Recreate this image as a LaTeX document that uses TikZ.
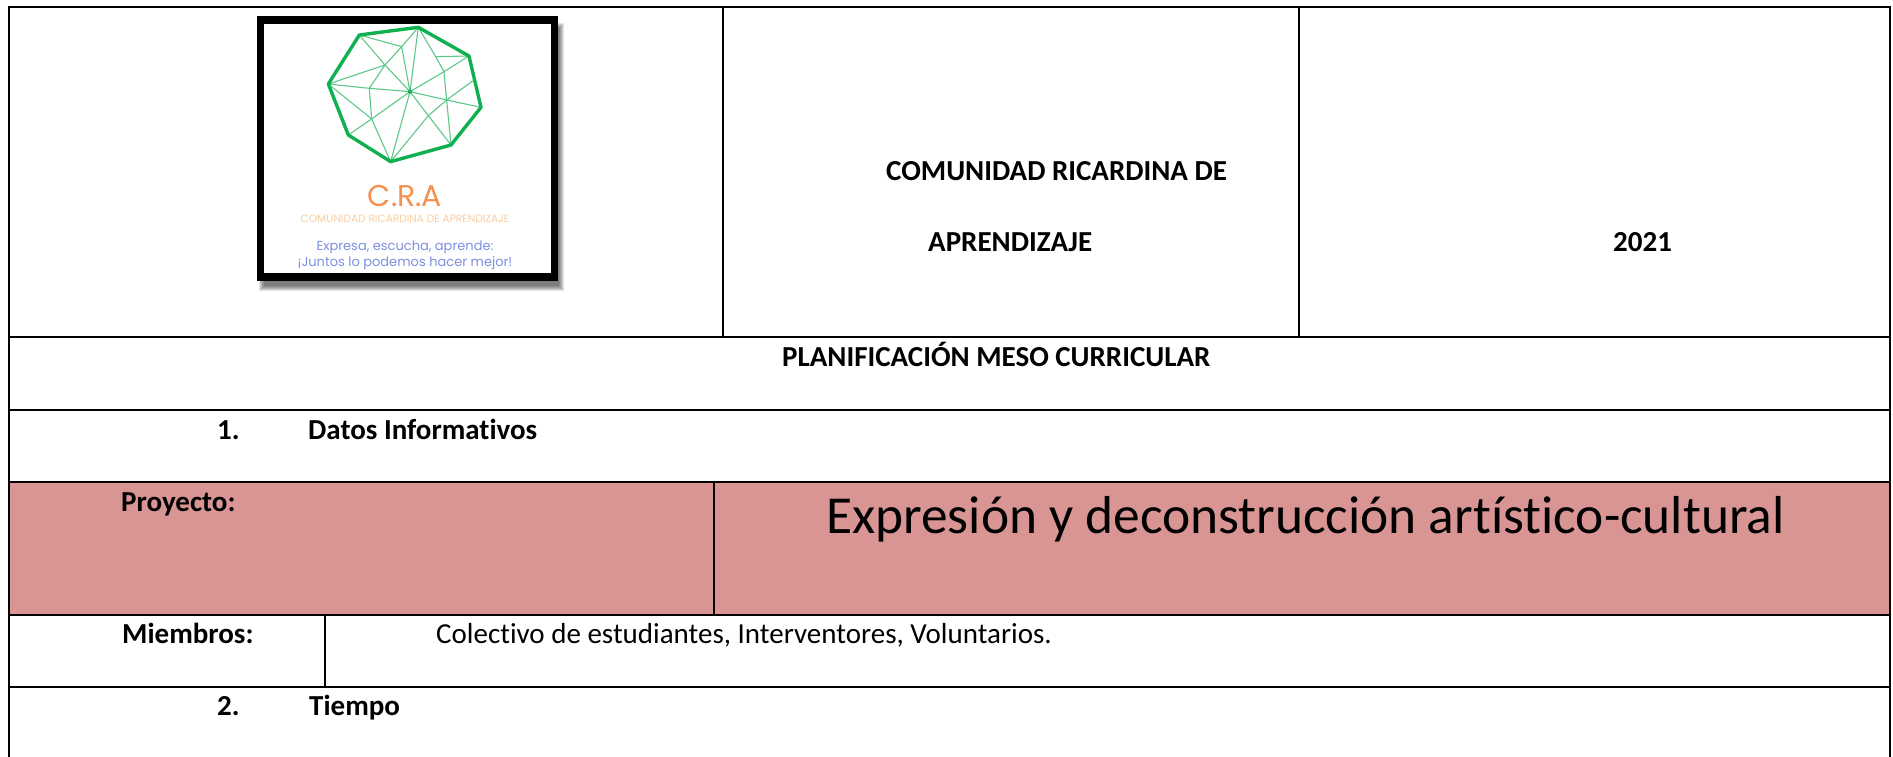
\documentclass[tikz,border=0pt]{standalone}
\usepackage{fontspec}
\setmainfont[Ligatures=NoCommon]{Carlito}
\newfontfamily\logofont{Poppins}
\definecolor{rosefill}{HTML}{D99594}
\definecolor{logogreen}{HTML}{10B050}
\definecolor{logothin}{HTML}{5CC98A}
\definecolor{logoorange}{HTML}{F4914E}
\definecolor{logopeach}{HTML}{F8CFA0}
\definecolor{logoblue}{HTML}{7E8FE0}
\tikzset{
  rule/.style={draw=black,line width=2.2pt},
  thinrule/.style={draw=black,line width=1.4pt},
  boldtext/.style={font=\fontsize{29}{32}\selectfont\bfseries,anchor=base west,inner sep=0pt},
  plaintext/.style={font=\fontsize{29}{32}\selectfont,anchor=base west,inner sep=0pt},
  logoline/.style={draw=logothin,line width=1.1pt},
  logotext/.style={anchor=base,inner sep=0pt},
}
\begin{document}
\begin{tikzpicture}[x=1pt,y=-1pt]
\useasboundingbox (0,0) rectangle (1893,757);
\fill[white] (0,0) rectangle (1893,757);
\fill[rosefill] (9,482) rectangle (1890,615);
% grid
\draw[rule] (8,7) -- (1891,7);
\draw[rule] (9,6) -- (9,757);
\draw[rule] (1890,6) -- (1890,757);
\draw[rule] (9,337) -- (1890,337);
\draw[rule] (9,410) -- (1890,410);
\draw[thinrule] (9,482) -- (1890,482);
\draw[rule] (9,615) -- (1890,615);
\draw[rule] (9,687) -- (1890,687);
\draw[thinrule] (723,7) -- (723,337);
\draw[thinrule] (1299,7) -- (1299,337);
\draw[thinrule] (714,482) -- (714,615);
\draw[thinrule] (325,615) -- (325,687);
% logo shadow and frame
\foreach \d in {0,1,2,3,4,5}{
  \fill[black,opacity=0.11] (264-\d,28-\d) rectangle (559+\d,286+\d);
}
\fill[black] (257,16) rectangle (558,281);
\fill[white] (264,24) rectangle (551,273);
% logo polygon
\begin{scope}[shift={(320,10)},x=0.3333pt,y=-0.3333pt]
\coordinate (a) at (25,222); \coordinate (b) at (118,75); \coordinate (c) at (295,52);
\coordinate (d) at (447,138); \coordinate (e) at (483,292); \coordinate (f) at (393,405);
\coordinate (g) at (212,455); \coordinate (h) at (85,375); \coordinate (o) at (270,245);
\coordinate (p) at (245,110); \coordinate (q) at (195,165); \coordinate (r) at (148,235);
\coordinate (s) at (155,327); \coordinate (t) at (347,140); \coordinate (u) at (372,185);
\coordinate (v) at (380,270); \coordinate (w) at (325,317); \coordinate (x) at (458,213);
\draw[logoline] (b)--(p)--(c)--(o) (b)--(q)--(o) (a)--(q)--(p)--(o) (q)--(r)--(s) (a)--(r)--(o);
\draw[logoline] (a)--(s)--(g) (h)--(s)--(o)--(g) (o)--(w)--(f) (w)--(g) (o)--(v)--(e) (v)--(x);
\draw[logoline] (c)--(t)--(d) (t)--(u)--(v)--(w) (u)--(o) (u)--(d) (v)--(f);
\fill[logogreen] (o) circle[radius=6];
\draw[draw=logogreen,line width=3.4pt,line join=round] (a)--(b)--(c)--(d)--(e)--(f)--(g)--(h)--cycle;
\end{scope}
% logo texts
\node[logotext,font=\logofont\fontsize{30}{32}\selectfont,text=logoorange] (cra) at (405,206) {C.R.A};
\node[logotext,font=\logofont\fontsize{10.6}{12}\selectfont,text=logopeach] (crafull) at (405,222) {COMUNIDAD RICARDINA DE APRENDIZAJE};
\node[logotext,font=\logofont\fontsize{13}{15}\selectfont,text=logoblue] (m1) at (405,250) {Expresa, escucha, aprende:};
\node[logotext,font=\logofont\fontsize{13}{15}\selectfont,text=logoblue] (m2) at (405,266) {¡Juntos lo podemos hacer mejor!};
% table texts
\node[boldtext] (t1) at (886,180) {COMUNIDAD RICARDINA DE};
\node[boldtext] (t2) at (928,251) {APRENDIZAJE};
\node[boldtext] (year) at (1613,251) {2021};
\node[boldtext] (plan) at (782,366) {PLANIFICACIÓN MESO CURRICULAR};
\node[boldtext] (n1) at (217,439) {1.};
\node[boldtext] (d1) at (308,439) {Datos Informativos};
\node[boldtext] (proy) at (121,511) {Proyecto:};
\node[anchor=base west,inner sep=0pt,font=\fontsize{53.4}{56}\selectfont] (title) at (826,533) {Expresión y deconstrucción artístico-cultural};
\node[boldtext] (miem) at (122,643) {Miembros:};
\node[plaintext] (cole) at (436,643) {Colectivo de estudiantes, Interventores, Voluntarios.};
\node[boldtext] (n2) at (217,715) {2.};
\node[boldtext] (d2) at (309,715) {Tiempo};
\end{tikzpicture}
\end{document}
